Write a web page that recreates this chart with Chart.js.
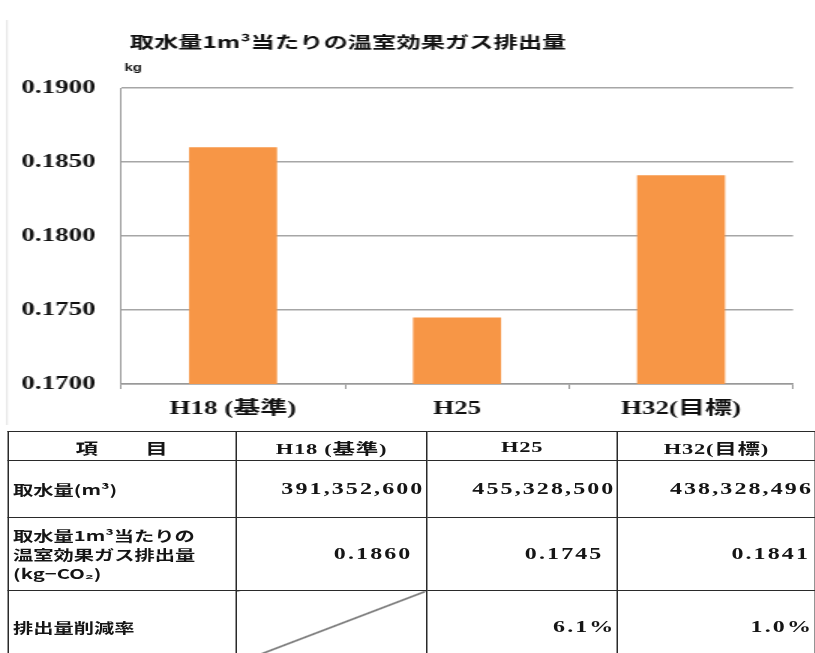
<!DOCTYPE html>
<html lang="ja">
<head>
<meta charset="utf-8">
<script src="https://cdn.jsdelivr.net/npm/chart.js@4/dist/chart.umd.min.js"></script>
<style>
  html, body { margin: 0; padding: 0; background: #fff; overflow: hidden; }
  body { width: 815px; height: 653px; }
  /* everything is laid out narrow and then widened, like the source sheet */
  #wrap { width: 544px; height: 653px; position: relative; transform: scaleX(1.5); transform-origin: 0 0; }
  #chartBox { position: absolute; left: 0; top: 0; width: 544px; height: 425px; }
  #tbl { position: absolute; left: 4.7px; top: 431px; border-collapse: collapse; table-layout: fixed; color: #151515; }
  #tbl td { border: 1.3px solid #2a2a2a; padding: 0 3px; white-space: nowrap; overflow: hidden; }
  #tbl .hd td { height: 26px; text-align: center; font: bold 15px 'Liberation Serif', 'Noto Sans CJK JP', serif; letter-spacing: 0.5px; padding-top: 2px; }
  #tbl .lbl { font: bold 13.5px 'Noto Sans CJK JP', sans-serif; text-align: left; line-height: 19px; }
  #tbl .num { font: bold 16px 'Liberation Serif', serif; letter-spacing: 1.4px; text-align: right; padding-right: 1px; }
  #tbl .r1 td { height: 56px; }
  #tbl .r2 td { height: 72px; }
  #tbl .r2 .num { padding-right: 9px; }
  #tbl .r2 .num:last-child { padding-right: 3px; }
  #tbl .r3 td { height: 72px; }
  .diag { background: linear-gradient(to bottom right, transparent calc(50% - 1px), #222 50%, transparent calc(50% + 1px)); }
</style>
</head>
<body>
<div id="wrap">
  <div id="chartBox"><canvas id="cEmision"></canvas></div>
  <table id="tbl"><colgroup><col style="width:153.3px"><col style="width:128.2px"><col style="width:128.5px"><col style="width:133px"></colgroup><tbody id="tblBody"></tbody></table>
</div>
<script>
const TITLE      = '取水量1m³当たりの温室効果ガス排出量';
const UNIT       = 'kg';
const categories = ['H18 (基準)', 'H25', 'H32(目標)'];
const emision    = [0.1860, 0.1745, 0.1841];
const yMin = 0.1700, yMax = 0.1900, yStep = 0.0050;

// table under the chart
const headCols   = ['項　　目', 'H18 (基準)', 'H25', 'H32(目標)'];
const rowLabels  = ['取水量(m³)', '取水量1m³当たりの<br>温室効果ガス排出量<br>(kg−CO₂)', '排出量削減率'];
const intake     = ['391,352,600', '455,328,500', '438,328,496'];
const reduction  = ['', '6.1%', '1.0%'];

const PLOT_LEFT = 80.7, PLOT_TOP = 88, PLOT_BOTTOM = 384, PLOT_RIGHT = 528.7;

function buildTable() {
  let html = '<tr class="hd">' + headCols.map(h => `<td>${h}</td>`).join('') + '</tr>';
  html += `<tr class="r1"><td class="lbl">${rowLabels[0]}</td>` + intake.map(v => `<td class="num">${v}</td>`).join('') + '</tr>';
  html += `<tr class="r2"><td class="lbl">${rowLabels[1]}</td>` + emision.map(v => `<td class="num">${v.toFixed(4)}</td>`).join('') + '</tr>';
  html += `<tr class="r3"><td class="lbl">${rowLabels[2]}</td>` + reduction.map(v => v ? `<td class="num">${v}</td>` : '<td class="diag"></td>').join('') + '</tr>';
  document.getElementById('tblBody').innerHTML = html;
}

// title, unit and the faint frame edge on the left
const headerPlugin = {
  id: 'header',
  afterDraw(chart) {
    const ctx = chart.ctx;
    ctx.save();
    ctx.strokeStyle = '#e2e2e2';
    ctx.lineWidth = 1;
    ctx.beginPath(); ctx.moveTo(4.7, 20); ctx.lineTo(4.7, 425); ctx.stroke();
    ctx.fillStyle = '#111';
    ctx.textBaseline = 'middle';
    ctx.textAlign = 'left';
    ctx.font = "bold 16.2px 'Noto Sans CJK JP', sans-serif";
    ctx.fillText(TITLE, 86.5, 42);
    ctx.font = "bold 10px 'Liberation Sans', sans-serif";
    ctx.fillText(UNIT, 83, 68);
    ctx.restore();
  }
};

buildTable();

new Chart(document.getElementById('cEmision'), {
  type: 'bar',
  data: {
    labels: categories,
    datasets: [{ data: emision, backgroundColor: '#F79646', borderWidth: 0, barPercentage: 0.393, categoryPercentage: 1 }],
  },
  options: {
    responsive: true, maintainAspectRatio: false, animation: false,
    layout: { padding: { top: PLOT_TOP, right: 544 - PLOT_RIGHT, bottom: 0, left: 0 } },
    plugins: { legend: { display: false }, tooltip: { enabled: false } },
    scales: {
      x: {
        afterFit: s => { s.height = 425 - PLOT_BOTTOM; },
        grid: { drawOnChartArea: false, drawTicks: true, tickLength: 5, color: '#999', offset: true },
        border: { color: '#999', width: 1.5 },
        ticks: { color: '#111', padding: 10, font: { family: "'Liberation Serif', 'Noto Sans CJK JP', serif", size: 18, weight: 'bold' } },
      },
      y: {
        min: yMin, max: yMax,
        afterFit: s => { s.width = PLOT_LEFT; },
        grid: { color: '#a6a6a6', lineWidth: 1.5, drawTicks: false },
        border: { color: '#999', width: 1 },
        ticks: { stepSize: yStep, color: '#111', padding: 17, callback: v => v.toFixed(4), font: { family: "'Liberation Serif', serif", size: 18, weight: 'bold' } },
      },
    },
  },
  plugins: [headerPlugin],
});
</script>
</body>
</html>
